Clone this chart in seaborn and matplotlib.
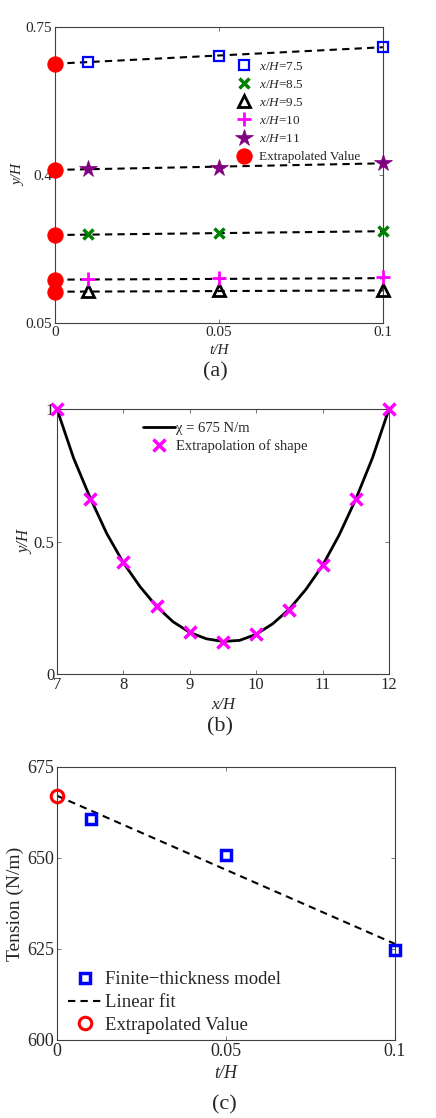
import numpy as np
import pandas as pd
import matplotlib
matplotlib.use("Agg")
import matplotlib.pyplot as plt
import seaborn as sns

# ---- panel (a): y/H against t/H at several x/H stations
t_vals = [0.01, 0.05, 0.1]
y_75 = [0.668, 0.681, 0.702]
y_85 = [0.260, 0.263, 0.268]
y_95 = [0.125, 0.127, 0.127]
y_10 = [0.154, 0.156, 0.158]
y_11 = [0.415, 0.417, 0.428]
extrap_a = [0.663, 0.258, 0.124, 0.1525, 0.412]   # value at t/H = 0
fit_end_a = [0.702, 0.267, 0.127, 0.156, 0.4275]  # linear fit at t/H = 0.1
station_labels = ["$x/H$=7.5", "$x/H$=8.5", "$x/H$=9.5", "$x/H$=10", "$x/H$=11"]

# ---- panel (b): shape
shape_x = [7, 7.5, 8, 8.5, 9, 9.5, 10, 10.5, 11, 11.5, 12]
shape_y = [1.0, 0.661, 0.422, 0.257, 0.160, 0.122, 0.151, 0.242, 0.412, 0.660, 1.0]
curve_x = [7, 7.25, 7.5, 7.75, 8, 8.25, 8.5, 8.75, 9, 9.25, 9.5, 9.75,
           10, 10.25, 10.5, 10.75, 11, 11.25, 11.5, 11.75, 12]
curve_y = [1.0, 0.815, 0.665, 0.53, 0.42, 0.33, 0.255, 0.197, 0.157, 0.133, 0.123, 0.127,
           0.15, 0.19, 0.245, 0.32, 0.41, 0.525, 0.66, 0.815, 1.0]

# ---- panel (c): tension
t_c = [0.01, 0.05, 0.1]
tension = [660.8, 650.9, 624.8]
tension_extrap = 667.1
fit_t = [0, 0.1]
fit_tension = [667.1, 626.4]

sns.set_style("ticks")
plt.rcParams['font.family'] = ['Liberation Serif', 'DejaVu Serif']
plt.rcParams['mathtext.fontset'] = 'custom'
plt.rcParams['mathtext.rm'] = 'Liberation Serif'
plt.rcParams['mathtext.it'] = 'Liberation Serif:italic'
plt.rcParams['xtick.direction'] = 'in'
plt.rcParams['ytick.direction'] = 'in'

fig = plt.figure(figsize=(4.36, 11.18), dpi=100)
ax_a = fig.add_axes([0.126, 0.7111, 0.752, 0.2648])
ax_b = fig.add_axes([0.1307, 0.3971, 0.7615, 0.237])
ax_c = fig.add_axes([0.1307, 0.0698, 0.775, 0.2442])


def style_axes(ax, size):
    for s in ax.spines.values():
        s.set_color('#404040')
        s.set_linewidth(0.8)
    ax.tick_params(top=True, right=True, labelsize=size, length=3, width=0.6,
                   color='#606060', pad=2)


# ---- (a)
dash = (0, (3.5, 2.5))
for ye, yf in zip(extrap_a, fit_end_a):
    sns.lineplot(x=[0, 0.1], y=[ye, yf], ax=ax_a, color='black', lw=1.5,
                 linestyle=dash, errorbar=None, zorder=1)

styles = [
    dict(marker='s', color='blue', markeredgecolor='blue', markerfacecolor='none',
         markersize=6.5, markeredgewidth=1.6),
    dict(marker='x', color='green', markeredgecolor='green', markersize=7, markeredgewidth=2.5),
    dict(marker='^', color='black', markeredgecolor='black', markerfacecolor='none',
         markersize=8, markeredgewidth=2),
    dict(marker='+', color='magenta', markeredgecolor='magenta', markersize=10,
         markeredgewidth=2),
    dict(marker='*', color='#800080', markeredgecolor='#800080', markersize=13,
         markeredgewidth=0.5),
]
series = [y_75, y_85, y_95, y_10, y_11]
for ys, lab, st in zip(series, station_labels, styles):
    df = pd.DataFrame({"t": t_vals, "y": ys})
    sns.lineplot(data=df, x="t", y="y", ax=ax_a, linestyle='', label=lab,
                 errorbar=None, zorder=3, clip_on=False, **st)
sns.lineplot(x=[0] * len(extrap_a), y=extrap_a, ax=ax_a, marker='o', color='red',
             markeredgecolor='red', markersize=11, linestyle='', label="Extrapolated Value",
             errorbar=None, estimator=None, zorder=4, clip_on=False)

ax_a.set_xlim(0, 0.1)
ax_a.set_ylim(0.05, 0.75)
ax_a.set_xticks([0, 0.05, 0.1])
ax_a.set_xticklabels(["0", "0.05", "0.1"])
ax_a.set_yticks([0.05, 0.4, 0.75])
ax_a.set_yticklabels(["0.05", "0.4", "0.75"])
ax_a.set_xlabel("t/H", fontstyle='italic', fontsize=11, labelpad=4)
ax_a.set_ylabel("y/H", fontstyle='italic', fontsize=11, labelpad=0)
style_axes(ax_a, 11)
ax_a.legend(loc='upper left', bbox_to_anchor=(0.535, 0.905), frameon=False, fontsize=9.5,
            handlelength=1.2, handletextpad=0.6, labelspacing=0.45, borderaxespad=0)

# ---- (b)
sns.lineplot(x=curve_x, y=curve_y, ax=ax_b, color='black', lw=2,
             label="χ = 675 N/m", errorbar=None, estimator=None, sort=False)
sns.lineplot(x=shape_x, y=shape_y, ax=ax_b, marker='x', color='magenta',
             markeredgecolor='magenta', markersize=8, markeredgewidth=2.5,
             linestyle='', label="Extrapolation of shape", errorbar=None,
             estimator=None, clip_on=False, zorder=3)
ax_b.set_xlim(7, 12)
ax_b.set_ylim(0, 1)
ax_b.set_xticks([7, 8, 9, 10, 11, 12])
ax_b.set_yticks([0, 0.5, 1])
ax_b.set_yticklabels(["0", "0.5", "1"])
ax_b.set_xlabel("x/H", fontstyle='italic', fontsize=12, labelpad=3)
ax_b.set_ylabel("y/H", fontstyle='italic', fontsize=12, labelpad=0)
style_axes(ax_b, 12)
ax_b.legend(loc='upper left', bbox_to_anchor=(0.24, 0.975), frameon=False, fontsize=10.5,
            handlelength=2.2, handletextpad=0.1, labelspacing=0.3, borderaxespad=0)

# ---- (c)
sns.lineplot(x=t_c, y=tension, ax=ax_c, marker='s', color='blue', markeredgecolor='blue',
             markerfacecolor='none', markersize=7, markeredgewidth=2.5, linestyle='',
             label="Finite\u2212thickness model", errorbar=None, clip_on=False, zorder=3)
sns.lineplot(x=fit_t, y=fit_tension, ax=ax_c, color='black', lw=1.5, linestyle=(0, (3.5, 2.5)),
             label="Linear fit", errorbar=None)
sns.lineplot(x=[0], y=[tension_extrap], ax=ax_c, marker='o', color='red',
             markeredgecolor='red', markerfacecolor='none', markersize=9,
             markeredgewidth=2.2, linestyle='', label="Extrapolated Value", errorbar=None,
             clip_on=False, zorder=4)
ax_c.set_xlim(0, 0.1)
ax_c.set_ylim(600, 675)
ax_c.set_xticks([0, 0.05, 0.1])
ax_c.set_xticklabels(["0", "0.05", "0.1"])
ax_c.set_yticks([600, 625, 650, 675])
ax_c.set_xlabel("t/H", fontstyle='italic', fontsize=13, labelpad=4)
ax_c.set_ylabel("Tension (N/m)", fontsize=14, labelpad=2)
style_axes(ax_c, 13)
ax_c.legend(loc='lower left', bbox_to_anchor=(0.01, -0.005), frameon=False, fontsize=13.5,
            handlelength=1.8, handletextpad=0.2, labelspacing=0.3, borderaxespad=0)

fig.text(0.493, 1 - 372 / 1118, "(a)", ha='center', va='center', fontsize=16)
fig.text(0.505, 1 - 727 / 1118, "(b)", ha='center', va='center', fontsize=16)
fig.text(0.514, 1 - 1105 / 1118, "(c)", ha='center', va='center', fontsize=16)

fig.savefig("out.png", dpi=100)
